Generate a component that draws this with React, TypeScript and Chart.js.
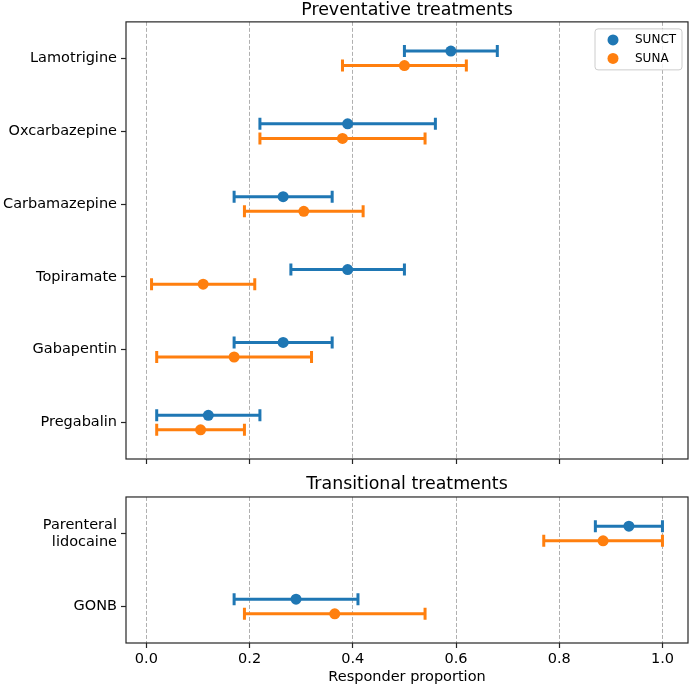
import React, { useEffect, useRef } from 'react';
import { Chart, registerables } from 'chart.js';

Chart.register(...registerables);

// ---------- data ----------
const seriesNames = ['SUNCT', 'SUNA'];

const preventativeCategories = ['Lamotrigine', 'Oxcarbazepine', 'Carbamazepine', 'Topiramate', 'Gabapentin', 'Pregabalin'];
const preventativeSunct = [0.59, 0.39, 0.265, 0.39, 0.265, 0.12];
const preventativeSunctLow = [0.5, 0.22, 0.17, 0.28, 0.17, 0.02];
const preventativeSunctHigh = [0.68, 0.56, 0.36, 0.5, 0.36, 0.22];
const preventativeSuna = [0.5, 0.38, 0.305, 0.11, 0.17, 0.105];
const preventativeSunaLow = [0.38, 0.22, 0.19, 0.01, 0.02, 0.02];
const preventativeSunaHigh = [0.62, 0.54, 0.42, 0.21, 0.32, 0.19];

const transitionalCategories: (string | string[])[] = [['Parenteral', 'lidocaine'], 'GONB'];
const transitionalSunct = [0.935, 0.29];
const transitionalSunctLow = [0.87, 0.17];
const transitionalSunctHigh = [1.0, 0.41];
const transitionalSuna = [0.885, 0.365];
const transitionalSunaLow = [0.77, 0.19];
const transitionalSunaHigh = [1.0, 0.54];

const xTickValues = [0, 0.2, 0.4, 0.6, 0.8, 1.0];

// ---------- styling ----------
const FONT = "'DejaVu Sans', 'Liberation Sans', sans-serif";
const COLORS = ['#1f77b4', '#ff7f0e'];
const OFFSETS = [-0.1, 0.1];

const allLows = [...preventativeSunctLow, ...preventativeSunaLow, ...transitionalSunctLow, ...transitionalSunaLow];
const allHighs = [...preventativeSunctHigh, ...preventativeSunaHigh, ...transitionalSunctHigh, ...transitionalSunaHigh];
const dataMin = Math.min(...allLows);
const dataMax = Math.max(...allHighs);
const margin = (dataMax - dataMin) * 0.05;
const X_MIN = dataMin - margin;
const X_MAX = dataMax + margin;

function makePoints(means: number[], lows: number[], highs: number[], offset: number) {
  return means.map((m, i) => ({ x: m, y: i + offset, xMin: lows[i], xMax: highs[i] }));
}

const errorBarPlugin = {
  id: 'errorBars',
  beforeDatasetsDraw(chart: any) {
    const { ctx } = chart;
    const xs = chart.scales.x;
    const ys = chart.scales.y;
    chart.data.datasets.forEach((ds: any, di: number) => {
      if (!chart.isDatasetVisible(di)) return;
      ctx.save();
      ctx.strokeStyle = ds.backgroundColor;
      ctx.lineWidth = 3;
      ctx.lineCap = 'butt';
      ds.data.forEach((p: any) => {
        const x0 = xs.getPixelForValue(p.xMin);
        const x1 = xs.getPixelForValue(p.xMax);
        const y = ys.getPixelForValue(p.y);
        ctx.beginPath();
        ctx.moveTo(x0, y);
        ctx.lineTo(x1, y);
        ctx.moveTo(x0, y - 6);
        ctx.lineTo(x0, y + 6);
        ctx.moveTo(x1, y - 6);
        ctx.lineTo(x1, y + 6);
        ctx.stroke();
      });
      ctx.restore();
    });
  },
};

function framePlugin(showLegend: boolean) {
  return {
    id: 'frameLegend',
    afterDraw(chart: any) {
      const { ctx, chartArea } = chart;
      const { left, right, top, bottom } = chartArea;
      ctx.save();
      ctx.strokeStyle = '#262626';
      ctx.lineWidth = 1.2;
      ctx.strokeRect(left, top, right - left, bottom - top);
      if (showLegend) {
        const w = 87;
        const h = 41;
        const bx = right - 6 - w;
        const by = top + 7;
        const r = 3;
        ctx.beginPath();
        ctx.moveTo(bx + r, by);
        ctx.lineTo(bx + w - r, by);
        ctx.quadraticCurveTo(bx + w, by, bx + w, by + r);
        ctx.lineTo(bx + w, by + h - r);
        ctx.quadraticCurveTo(bx + w, by + h, bx + w - r, by + h);
        ctx.lineTo(bx + r, by + h);
        ctx.quadraticCurveTo(bx, by + h, bx, by + h - r);
        ctx.lineTo(bx, by + r);
        ctx.quadraticCurveTo(bx, by, bx + r, by);
        ctx.closePath();
        ctx.fillStyle = 'rgba(255,255,255,0.8)';
        ctx.fill();
        ctx.strokeStyle = '#cccccc';
        ctx.lineWidth = 1;
        ctx.stroke();
        chart.data.datasets.forEach((ds: any, i: number) => {
          const cy = by + 11 + i * 18.5;
          ctx.beginPath();
          ctx.fillStyle = ds.backgroundColor;
          ctx.arc(bx + 18, cy, 5.5, 0, Math.PI * 2);
          ctx.fill();
          ctx.fillStyle = '#000';
          ctx.font = `12px ${FONT}`;
          ctx.textBaseline = 'middle';
          ctx.textAlign = 'left';
          ctx.fillText(ds.label, bx + 40, cy);
        });
      }
      ctx.restore();
    },
  };
}

interface PanelCfg {
  title: string;
  titlePadding: { top: number; bottom: number };
  categories: (string | string[])[];
  means: number[][];
  lows: number[][];
  highs: number[][];
  xAxisHeight: number;
  showXLabels: boolean;
  xTitle: string;
  legend: boolean;
}

function buildConfig(cfg: PanelCfg): any {
  const datasets = seriesNames.map((name, s) => ({
    label: name,
    data: makePoints(cfg.means[s], cfg.lows[s], cfg.highs[s], OFFSETS[s]),
    backgroundColor: COLORS[s],
    borderColor: COLORS[s],
    borderWidth: 0,
    pointRadius: 5.5,
    pointHoverRadius: 5.5,
    showLine: false,
  }));
  const n = cfg.categories.length;
  return {
    type: 'scatter',
    data: { datasets },
    options: {
      animation: false,
      responsive: false,
      events: [],
      layout: { autoPadding: false, padding: { left: 0, right: 1, top: 0, bottom: 0 } },
      plugins: {
        legend: { display: false },
        tooltip: { enabled: false },
        title: {
          display: true,
          text: cfg.title,
          color: '#000',
          fullSize: false,
          font: { family: FONT, size: 17.4, weight: 'normal' },
          padding: cfg.titlePadding,
        },
      },
      scales: {
        x: {
          type: 'linear',
          min: X_MIN,
          max: X_MAX,
          afterBuildTicks: (axis: any) => {
            axis.ticks = xTickValues.map((v) => ({ value: v }));
          },
          afterFit: (axis: any) => {
            axis.height = cfg.xAxisHeight;
            axis.paddingLeft = 0;
            axis.paddingRight = 0;
            axis.paddingTop = 0;
            axis.paddingBottom = 0;
          },
          ticks: {
            autoSkip: false,
            maxRotation: 0,
            color: '#000',
            padding: 3,
            font: { family: FONT, size: 14.5 },
            callback: (v: any) => (cfg.showXLabels ? Number(v).toFixed(1) : ''),
          },
          grid: {
            color: '#b0b0b0',
            lineWidth: 1,
            drawTicks: true,
            tickLength: 5,
            tickColor: '#262626',
            tickWidth: 1.2,
            tickBorderDash: [],
          },
          border: { display: false, dash: [4, 2] },
          title: {
            display: cfg.xTitle !== '',
            text: cfg.xTitle,
            color: '#000',
            font: { family: FONT, size: 14.5 },
            padding: { top: 0, bottom: 1 },
          },
        },
        y: {
          type: 'linear',
          min: -0.5,
          max: n - 0.5,
          reverse: true,
          afterBuildTicks: (axis: any) => {
            axis.ticks = cfg.categories.map((_, i) => ({ value: i }));
          },
          afterFit: (axis: any) => {
            axis.width = 126;
            axis.paddingLeft = 0;
            axis.paddingRight = 0;
            axis.paddingTop = 0;
            axis.paddingBottom = 0;
          },
          ticks: {
            autoSkip: false,
            color: '#000',
            padding: 4,
            font: { family: FONT, size: 14.5 },
            callback: (v: any) => cfg.categories[Math.round(Number(v))],
          },
          grid: {
            drawOnChartArea: false,
            drawTicks: true,
            tickLength: 5,
            tickColor: '#262626',
            tickWidth: 1.2,
          },
          border: { display: false },
        },
      },
    },
    plugins: [errorBarPlugin, framePlugin(cfg.legend)],
  };
}

function Panel({ top, height, cfg }: { top: number; height: number; cfg: PanelCfg }) {
  const ref = useRef<HTMLCanvasElement | null>(null);
  useEffect(() => {
    if (!ref.current) return;
    const chart = new Chart(ref.current, buildConfig(cfg));
    return () => chart.destroy();
  }, []);
  return (
    <canvas
      ref={ref}
      width={689}
      height={height}
      style={{ position: 'absolute', left: 0, top, width: 689, height, display: 'block' }}
    />
  );
}

export default function App() {
  const topCfg: PanelCfg = {
    title: 'Preventative treatments',
    titlePadding: { top: 0, bottom: 1 },
    categories: preventativeCategories,
    means: [preventativeSunct, preventativeSuna],
    lows: [preventativeSunctLow, preventativeSunaLow],
    highs: [preventativeSunctHigh, preventativeSunaHigh],
    xAxisHeight: 11,
    showXLabels: false,
    xTitle: '',
    legend: true,
  };
  const bottomCfg: PanelCfg = {
    title: 'Transitional treatments',
    titlePadding: { top: 4, bottom: 2.1 },
    categories: transitionalCategories,
    means: [transitionalSunct, transitionalSuna],
    lows: [transitionalSunctLow, transitionalSunaLow],
    highs: [transitionalSunctHigh, transitionalSunaHigh],
    xAxisHeight: 44,
    showXLabels: true,
    xTitle: 'Responder proportion',
    legend: false,
  };
  return (
    <div style={{ position: 'absolute', left: 0, top: 0, width: 689, height: 687, background: '#fff' }}>
      <Panel top={0} height={470} cfg={topCfg} />
      <Panel top={470} height={217} cfg={bottomCfg} />
    </div>
  );
}
